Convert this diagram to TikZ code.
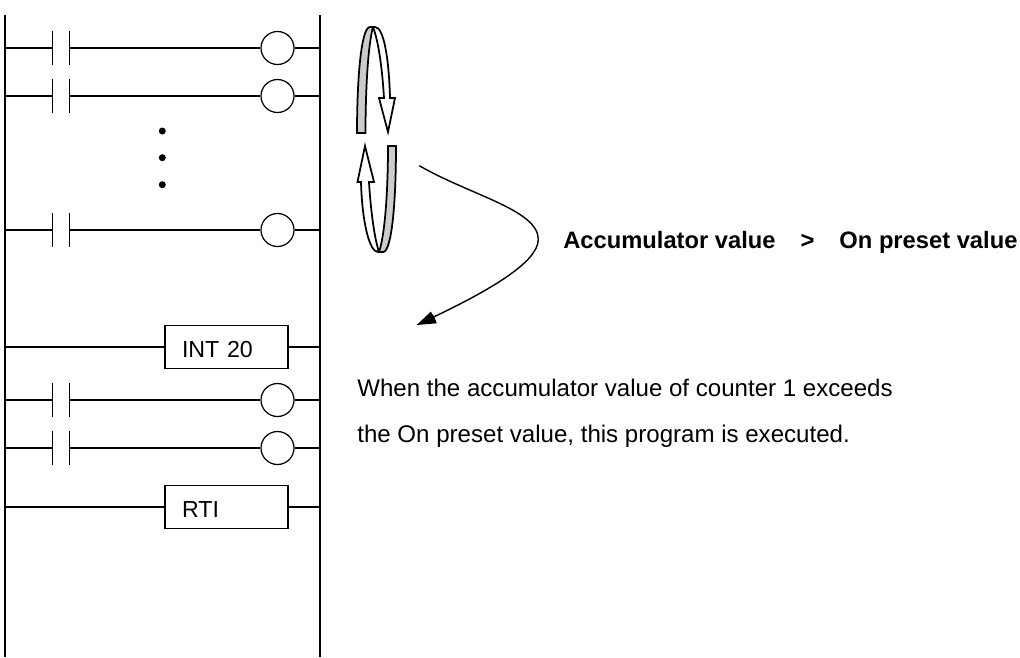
\documentclass[tikz,border=0pt]{standalone}
\usepackage{fontspec}
\setmainfont{Liberation Sans}
\begin{document}
\begin{tikzpicture}[scale=0.2]
\tikzstyle{every node}+=[inner sep=0pt]
\tikzstyle{coil}=[draw,circle,minimum size=0.66cm,line width=0.7pt]
\tikzstyle{contact}=[rectangle,minimum width=0.32cm,minimum height=0.66cm]
\tikzstyle{funcbox}=[draw,rectangle,line width=0.8pt,minimum height=0.86cm,text width=1.78cm,inner xsep=0.34cm,align=left,text height=0.42cm,text depth=0cm,font=\fontsize{13.2}{16}\selectfont]
\tikzstyle{dot}=[fill=black,circle,minimum size=0.14cm]
\tikzstyle{note}=[anchor=base west,font=\fontsize{13.7}{16}\selectfont]
\useasboundingbox (0,0) rectangle (102,-65.7);
\draw [black,line width=0.9pt] (0.5,-1.5) -- (0.5,-65.7);
\draw [black,line width=0.9pt] (32,-1.5) -- (32,-65.7);
\coordinate (l1) at (0.5,-4.8);
\coordinate (r1) at (32,-4.8);
\node [contact] (c1) at (6.1,-4.8) {};
\node [coil] (q1) at (27.75,-4.8) {};
\coordinate (l2) at (0.5,-9.6);
\coordinate (r2) at (32,-9.6);
\node [contact] (c2) at (6.1,-9.6) {};
\node [coil] (q2) at (27.75,-9.6) {};
\coordinate (l3) at (0.5,-23);
\coordinate (r3) at (32,-23);
\node [contact] (c3) at (6.1,-23) {};
\node [coil] (q3) at (27.75,-23) {};
\coordinate (l4) at (0.5,-34.7);
\coordinate (r4) at (32,-34.7);
\node [funcbox] (int) at (22.65,-34.7) {INT 20};
\coordinate (l5) at (0.5,-40);
\coordinate (r5) at (32,-40);
\node [contact] (c5) at (6.1,-40) {};
\node [coil] (q5) at (27.75,-40) {};
\coordinate (l6) at (0.5,-44.8);
\coordinate (r6) at (32,-44.8);
\node [contact] (c6) at (6.1,-44.8) {};
\node [coil] (q6) at (27.75,-44.8) {};
\coordinate (l7) at (0.5,-50.7);
\coordinate (r7) at (32,-50.7);
\node [funcbox] (rti) at (22.65,-50.7) {RTI};
\foreach \n in {1,2,3,5,6} {
\draw [black,line width=0.8pt] (l\n) -- (c\n.west);
\draw [black,line width=0.9pt] (c\n.north west) -- (c\n.south west);
\draw [black,line width=0.9pt] (c\n.north east) -- (c\n.south east);
\draw [black,line width=0.8pt] (c\n.east) -- (q\n.west);
\draw [black,line width=0.8pt] (q\n.east) -- (r\n);
}
\draw [black,line width=0.8pt] (l4) -- (int.west);
\draw [black,line width=0.8pt] (int.east) -- (r4);
\draw [black,line width=0.8pt] (l7) -- (rti.west);
\draw [black,line width=0.8pt] (rti.east) -- (r7);
\node [dot] (d1) at (16.23,-13.1) {};
\node [dot] (d2) at (16.23,-15.77) {};
\node [dot] (d3) at (16.23,-18.47) {};
% scan loop
\draw [black,fill=black!20,line width=1pt] (35.7,-13.3) .. controls (35.7,-8) and (36.1,-2.7) .. (37,-2.7) -- (37.3,-2.7) .. controls (36.8,-4.5) and (36.55,-9) .. (36.55,-13.3) -- cycle;
\draw [black,fill=white,line width=1pt] (37,-2.7) -- (37.5,-2.7) .. controls (38.4,-2.7) and (38.9,-6) .. (39,-9.8) -- (39.5,-9.8) -- (38.8,-13.2) -- (37.9,-9.8) -- (38.4,-9.8) .. controls (38.2,-6.5) and (37.8,-4) .. (37.3,-2.7);
\draw [black,fill=black!20,line width=1pt] (39.6,-14.6) .. controls (39.6,-20) and (39.2,-25.2) .. (38.3,-25.2) -- (37.9,-25.2) .. controls (38.5,-23.5) and (38.8,-19) .. (38.8,-14.6) -- cycle;
\draw [black,fill=white,line width=1pt] (38.3,-25.2) -- (37.8,-25.2) .. controls (36.9,-25.2) and (36.2,-22) .. (36.1,-18.2) -- (35.75,-18.2) -- (36.5,-14.6) -- (37.4,-18.2) -- (36.9,-18.2) .. controls (37.1,-21.5) and (37.5,-24) .. (37.9,-25.2);
% timing note
\coordinate (bstart) at (41.93,-16.57);
\coordinate (bmid) at (53.83,-23.93);
\coordinate (bnotch) at (43.43,-31.67);
\coordinate (btip) at (41.67,-32.5);
\draw [black,line width=0.8pt] (bstart) .. controls (47,-19.5) and (53.83,-21) .. (bmid) .. controls (53.83,-26.2) and (49,-29) .. (bnotch);
\fill [black] (btip) -- (43.07,-31.17) -- (bnotch) -- (43.67,-32.33) -- cycle;
\node [note,font=\fontsize{13.5}{16}\selectfont\bfseries] (cond) at (56.3,-24.8) {Accumulator value\hspace{0.5cm}>\hspace{0.5cm}On preset value};
\node [note] (line1) at (35.7,-39.6) {When the accumulator value of counter 1 exceeds};
\node [note] (line2) at (35.7,-44.27) {the On preset value, this program is executed.};
\end{tikzpicture}
\end{document}
